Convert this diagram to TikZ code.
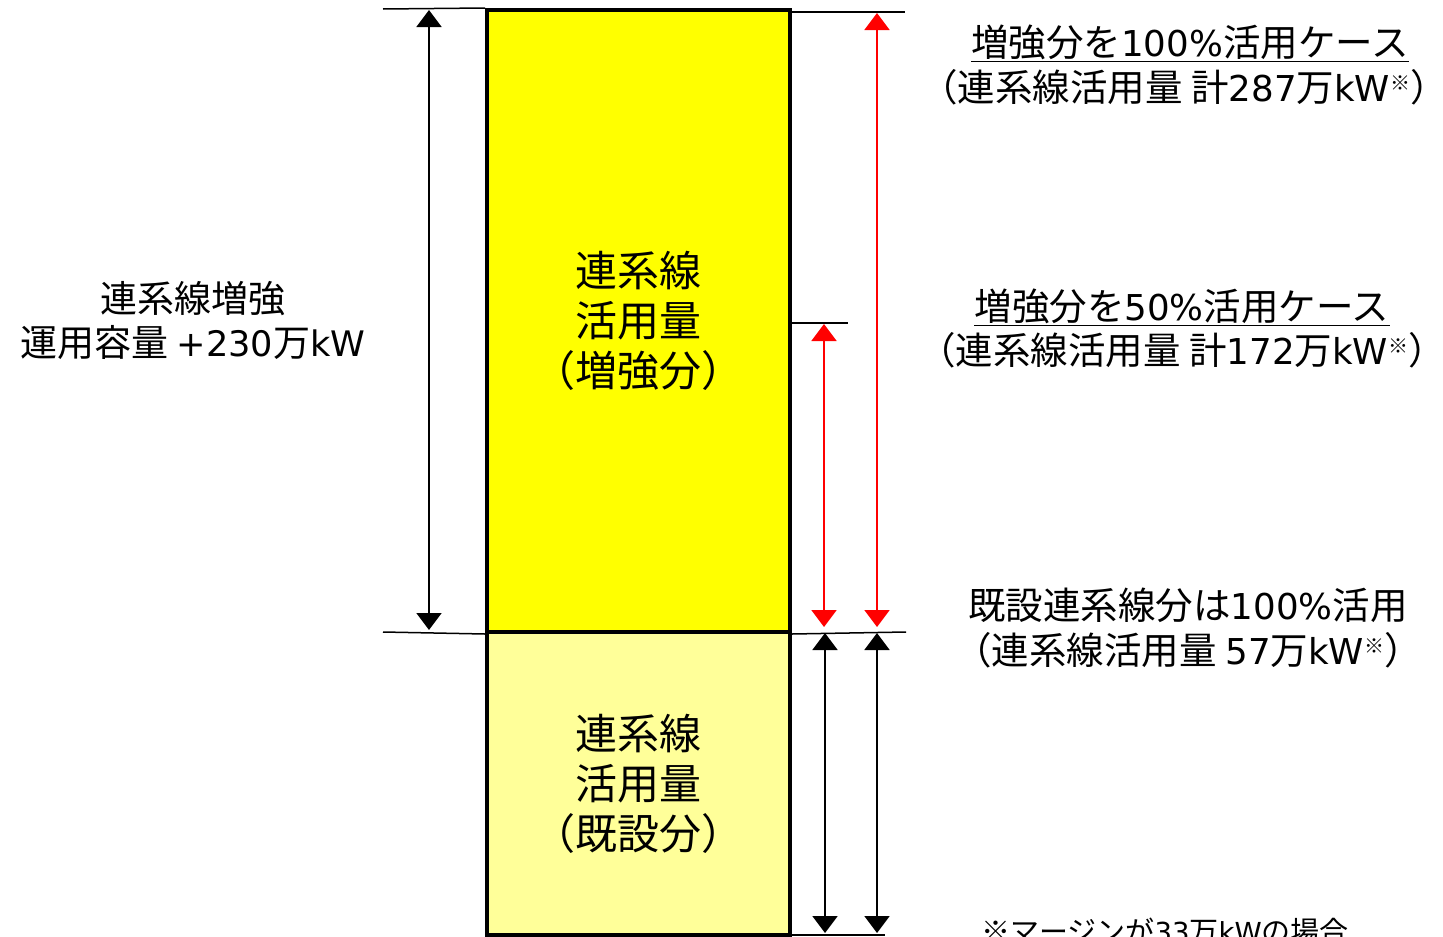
\documentclass[tikz,border=0pt]{standalone}
\usepackage{fontspec}
\setmainfont{Noto Sans CJK JP}
\newfontfamily\lt[Scale=0.95]{DejaVu Sans}
\usetikzlibrary{arrows.meta}
\definecolor{ylw}{HTML}{FFFF00}
\definecolor{lylw}{HTML}{FFFF99}
\definecolor{rd}{HTML}{FF0000}
\newcommand{\la}[1]{{\lt #1}}
\newcommand{\kome}{{\fontsize{20}{20}\selectfont\raisebox{11pt}{※}}}
\begin{document}
\begin{tikzpicture}[x=1pt,y=-1pt,
  tip/.tip={Triangle[width=25pt,length=17pt]},
  dim/.style={line width=2pt,tip-tip},
  guide/.style={line width=1.5pt},
  barbox/.style={draw=black,line width=4pt,minimum width=303pt,inner sep=0pt,align=center,font=\fontsize{42}{50}\selectfont},
  lbl/.style={inner sep=0pt,align=center,font=\fontsize{37}{44}\selectfont},
  rlbl/.style={inner sep=0pt,align=center,font=\fontsize{37.5}{45}\selectfont}]
\useasboundingbox (0,0) rectangle (1443,937);
\clip (0,0) rectangle (1443,937);
% bars
\node[barbox,fill=ylw,minimum height=622pt] (upper) at (638.5,321) {連系線\\活用量\\（増強分）};
\node[barbox,fill=lylw,minimum height=303pt] (lower) at (638.5,783.5) {連系線\\活用量\\（既設分）};
% guide lines
\coordinate (gl1) at (383,9);
\coordinate (gl2) at (383,632);
\coordinate (gr1) at (905,12);
\coordinate (gr1b) at (790,12);
\coordinate (gr2) at (906,632);
\coordinate (gm) at (848,323);
\coordinate (gmb) at (790,323);
\coordinate (gb) at (885,935);
\coordinate (gbb) at (790,935);
\draw[guide] (gl1) -- (upper.north west);
\draw[guide] (gl2) -- (upper.south west);
\draw[guide] (gr1b) -- (gr1);
\draw[guide] (upper.south east) -- (gr2);
\draw[guide] (gmb) -- (gm);
\draw[guide] (gbb) -- (gb);
% arrows
\coordinate (a1t) at (429,10);
\coordinate (a1b) at (429,630);
\coordinate (a2t) at (877,13);
\coordinate (a2b) at (877,627);
\coordinate (a3t) at (824,324);
\coordinate (a3b) at (824,627);
\coordinate (a4t) at (825,633);
\coordinate (a4b) at (825,933);
\coordinate (a5t) at (877,633);
\coordinate (a5b) at (877,933);
\draw[dim] (a1t) -- (a1b);
\draw[dim,rd] (a2t) -- (a2b);
\draw[dim,rd] (a3t) -- (a3b);
\draw[dim] (a4t) -- (a4b);
\draw[dim] (a5t) -- (a5b);
% left label
\node[lbl] (left) at (193,320) {連系線増強\\運用容量 \la{+230}万\la{kW}};
% right labels
\node[rlbl] (r1a) at (1190,42) {増強分を\la{100\%}活用ケース};
\node[rlbl] (r1b) at (1184,87) {（連系線活用量 計\la{287}万\la{kW}\kome）};
\node[rlbl] (r2a) at (1182,306) {増強分を\la{50\%}活用ケース};
\node[rlbl] (r2b) at (1182,350) {（連系線活用量 計\la{172}万\la{kW}\kome）};
\node[rlbl] (r3a) at (1188,605) {既設連系線分は\la{100\%}活用};
\node[rlbl] (r3b) at (1188,650) {（連系線活用量 \la{57}万\la{kW}\kome）};
\draw[line width=1.5pt] ([yshift=-2pt]r1a.south west) -- ([yshift=-2pt]r1a.south east);
\draw[line width=1.5pt] ([yshift=-2pt]r2a.south west) -- ([yshift=-2pt]r2a.south east);
\node[inner sep=0pt,font=\fontsize{29}{34}\selectfont] (note) at (1165,931) {※マージンが\la{33}万\la{kW}の場合};
\end{tikzpicture}
\end{document}
